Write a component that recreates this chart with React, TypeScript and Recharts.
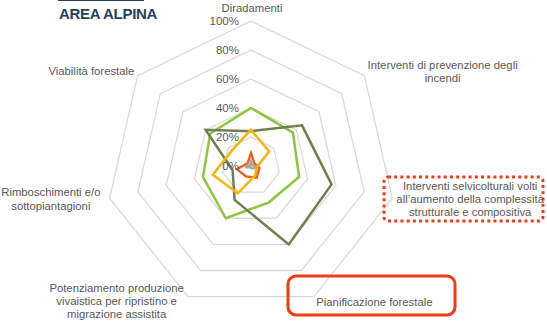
import React from 'react';
import { RadarChart, Radar, PolarGrid, PolarAngleAxis, PolarRadiusAxis } from 'recharts';

const categories = [
  'Diradamenti',
  'Interventi di prevenzione degli incendi',
  'Interventi selvicolturali volti all\u2019aumento della complessità strutturale e compositiva',
  'Pianificazione forestale',
  'Potenziamento produzione vivaistica per ripristino e migrazione assistita',
  'Rimboschimenti e/o sottopiantagioni',
  'Viabilità forestale',
];

// how each category label is broken into lines
const categoryLines = [
  ['Diradamenti'],
  ['Interventi di prevenzione degli', 'incendi'],
  ['Interventi selvicolturali volti', 'all\u2019aumento della complessità', 'strutturale  e compositiva'],
  ['Pianificazione forestale'],
  ['Potenziamento produzione', 'vivaistica per ripristino e', 'migrazione assistita'],
  ['Rimboschimenti e/o', 'sottopiantagioni'],
  ['Viabilità forestale'],
];

const oliveSeries = [24, 45, 57, 60, 26, 13, 40];
const limeSeries = [40, 37, 34, 28, 40, 34, 36];
const amberSeries = [25, 16, 4, 7, 21, 27, 17];
const redSeries = [9, 3, 6, 9, 8, 10, 3];
const greySeries = [3, 1, 4, 2, 1, 4, 1];

const radiusTicks = [0, 20, 40, 60, 80, 100];

const data = categories.map((name, i) => ({
  name,
  olive: oliveSeries[i],
  lime: limeSeries[i],
  amber: amberSeries[i],
  red: redSeries[i],
  grey: greySeries[i],
}));

const colors = {
  grid: '#dadada',
  text: '#595959',
  olive: '#6f7f4d',
  lime: '#8cc63f',
  amber: '#f7b500',
  red: '#ee5a1e',
  grey: '#a5a5a5',
  title: '#25405e',
  mark: '#f53b14',
};

const FONT = '"Liberation Sans", Arial, sans-serif';

// label nudges relative to the tick anchor recharts gives us
const labelShift = [
  { dx: 1, dy: -5 },
  { dx: 72, dy: 1 },
  { dx: 70, dy: -1 },
  { dx: 57, dy: -2 },
  { dx: -68, dy: -3 },
  { dx: -51, dy: -1 },
  { dx: -40, dy: 0 },
];

const AngleTick = (props: any) => {
  const { x, y, payload } = props;
  const i = categories.indexOf(payload.value);
  const lines = categoryLines[i] || [payload.value];
  const shift = labelShift[i] || { dx: 0, dy: 0 };
  const lh = 13.2;
  const top = y + shift.dy - ((lines.length - 1) * lh) / 2;
  return (
    <text textAnchor="middle" fill={colors.text} fontSize={11.3} fontFamily={FONT}>
      {lines.map((line, k) => (
        <tspan key={k} x={x + shift.dx} y={top + k * lh} dominantBaseline="central">
          {line}
        </tspan>
      ))}
    </text>
  );
};

const RadiusTick = (props: any) => {
  const { x, y, payload } = props;
  return (
    <text
      x={x - 12}
      y={y}
      textAnchor="end"
      dominantBaseline="central"
      fill={colors.text}
      fontSize={11.5}
      fontFamily={FONT}
    >
      {payload.value}%
    </text>
  );
};

export default function App() {
  return (
    <div style={{ position: 'fixed', left: 0, top: 0, width: 547, height: 321, background: '#fff', fontFamily: FONT }}>
      <RadarChart
        width={547}
        height={321}
        data={data}
        cx={251}
        cy={166}
        outerRadius={145}
        margin={{ top: 0, right: 0, bottom: 0, left: 0 }}
      >
        <PolarGrid gridType="polygon" radialLines={false} stroke={colors.grid} strokeWidth={1.3} />
        <PolarAngleAxis dataKey="name" tick={AngleTick} tickLine={false} axisLine={false} />
        <PolarRadiusAxis
          angle={90}
          domain={[0, 100]}
          ticks={radiusTicks}
          tick={RadiusTick}
          axisLine={false}
          tickLine={false}
        />
        <Radar dataKey="grey" stroke={colors.grey} strokeWidth={2.3} fill="transparent" fillOpacity={0} dot={false} isAnimationActive={false} />
        <Radar dataKey="red" stroke={colors.red} strokeWidth={2.3} fill="transparent" fillOpacity={0} dot={false} isAnimationActive={false} />
        <Radar dataKey="lime" stroke={colors.lime} strokeWidth={2.5} fill="transparent" fillOpacity={0} dot={false} isAnimationActive={false} />
        <Radar dataKey="olive" stroke={colors.olive} strokeWidth={2.5} fill="transparent" fillOpacity={0} dot={false} isAnimationActive={false} />
        <Radar dataKey="amber" stroke={colors.amber} strokeWidth={2.5} fill="transparent" fillOpacity={0} dot={false} isAnimationActive={false} />
      </RadarChart>

      {/* slide title and highlight boxes */}
      <div style={{ position: 'absolute', left: 58, top: -2, width: 86, height: 3, background: colors.title }} />
      <div
        style={{
          position: 'absolute',
          left: 59,
          top: 5,
          fontSize: 15,
          fontWeight: 700,
          color: colors.title,
          letterSpacing: -0.3,
          lineHeight: '18px',
        }}
      >
        AREA ALPINA
      </div>
      <svg width={547} height={321} style={{ position: 'absolute', left: 0, top: 0, pointerEvents: 'none' }}>
        <rect x={384} y={177} width={159} height={44} rx={4} fill="none" stroke={colors.mark} strokeWidth={3} strokeDasharray="3 3.2" />
        <rect x={288} y={276} width={167} height={39} rx={8} fill="none" stroke={colors.mark} strokeWidth={3} />
      </svg>
    </div>
  );
}
